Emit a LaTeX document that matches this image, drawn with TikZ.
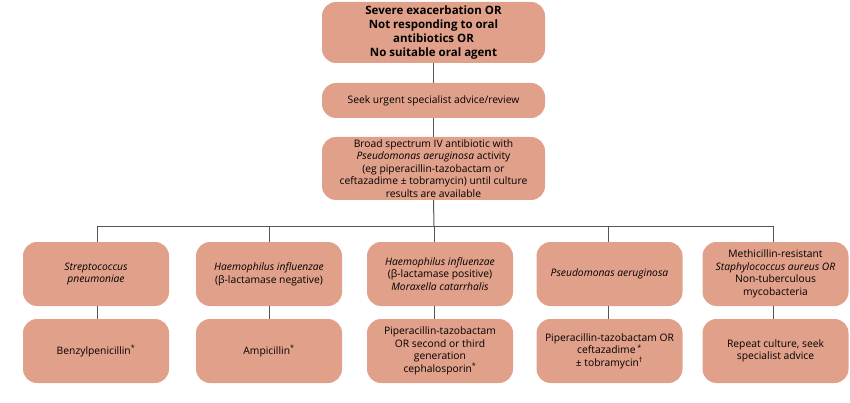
\documentclass[tikz,border=0pt]{standalone}
\usepackage{fontspec}
\setmainfont{Open Sans}
\definecolor{boxfill}{RGB}{225,160,138}
\definecolor{linec}{RGB}{85,85,85}
\begin{document}
\begin{tikzpicture}[x=1pt,y=-1pt,
  box/.style={rectangle, rounded corners=14pt, fill=boxfill, draw=none, minimum width=146pt, minimum height=64pt, align=center, font=\fontsize{10.3}{12.6}\selectfont, inner sep=2pt},
  wbox/.style={box, minimum width=223pt},
  conn/.style={draw=linec, line width=1pt}]
\useasboundingbox (0,0) rectangle (850,403);
\node[wbox, minimum height=61pt, font=\bfseries\fontsize{11.5}{13.7}\selectfont] (top) at (433.5,32.5) {Severe exacerbation OR\\Not responding to oral\\antibiotics OR\\No suitable oral agent};
\node[wbox, minimum height=35pt] (seek) at (433.5,100.5) {Seek urgent specialist advice/review};
\node[wbox, minimum height=63pt] (broad) at (433.5,168.5) {Broad spectrum IV antibiotic with\\\textit{Pseudomonas aeruginosa} activity\\(eg piperacillin-tazobactam or\\ceftazadime ± tobramycin) until culture\\results are available};
\node[box] (a1) at (96,274) {\textit{Streptococcus}\\\textit{pneumoniae}};
\node[box] (b1) at (269,274) {\textit{Haemophilus influenzae}\\(β-lactamase negative)};
\node[box] (c1) at (440,274) {\textit{Haemophilus influenzae}\\(β-lactamase positive)\\\textit{Moraxella catarrhalis}};
\node[box] (d1) at (609.5,274) {\textit{Pseudomonas aeruginosa}};
\node[box] (e1) at (775.5,274) {Methicillin-resistant\\\textit{Staphylococcus aureus OR}\\Non-tuberculous\\mycobacteria};
\node[box] (a2) at (96,351) {Benzylpenicillin\textsuperscript{*}};
\node[box] (b2) at (269,351) {Ampicillin\textsuperscript{*}};
\node[box] (c2) at (440,351) {Piperacillin-tazobactam\\OR second or third\\generation\\cephalosporin\textsuperscript{*}};
\node[box] (d2) at (609.5,351) {Piperacillin-tazobactam OR\\ceftazadime\,\textsuperscript{*}\\± tobramycin\textsuperscript{†}};
\node[box] (e2) at (775.5,351) {Repeat culture, seek\\specialist advice};
\coordinate (busL) at (97,226);
\coordinate (busR) at (773,226);
\coordinate (busC) at (434,226);
\draw[conn] (top.south) -- (seek.north);
\draw[conn] (seek.south) -- (broad.north);
\draw[conn] (broad.south) -- (busC);
\draw[conn] (busL) -- (busR);
\draw[conn] (busL) -- (busL |- a1.north);
\draw[conn] (269,226) -- (269,242);
\draw[conn] (busC) -- (busC |- c1.north);
\draw[conn] (608,226) -- (608,242);
\draw[conn] (busR) -- (busR |- e1.north);
\draw[conn] (a1.south -| busL) -- (a2.north -| busL);
\draw[conn] (b1.south) -- (b2.north);
\draw[conn] (c1.south -| busC) -- (c2.north -| busC);
\draw[conn] (d1.south -| 608,0) -- (d2.north -| 608,0);
\draw[conn] (e1.south -| busR) -- (e2.north -| busR);
\end{tikzpicture}
\end{document}
